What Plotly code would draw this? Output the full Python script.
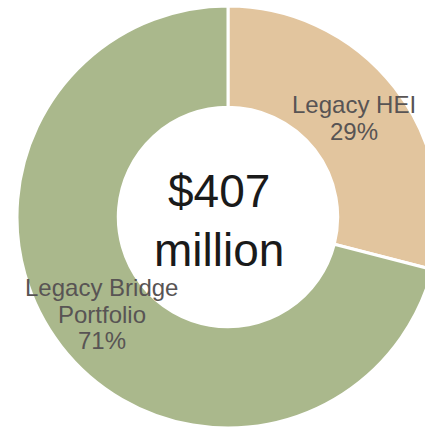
import math
import plotly.graph_objects as go

labels = ["Legacy HEI", "Legacy Bridge<br>Portfolio"]
values = [29, 71]
colors = ["#E2C59E", "#AAB88C"]
center_lines = ["$407", "million"]

HOLE = 0.52
LABEL_R = 0.758      # label radius as fraction of outer radius
LINE_PX = 26.5       # spacing between label lines in px
FONT = "Arial, Liberation Sans, sans-serif"

fig = go.Figure(go.Pie(
    labels=labels,
    values=values,
    hole=HOLE,
    sort=False,
    direction="clockwise",
    rotation=0,
    marker=dict(colors=colors, line=dict(color="white", width=3)),
    textinfo="none",
    showlegend=False,
    hoverinfo="label+percent",
))

# slice labels, placed at each slice's mid angle
total = sum(values)
cum = 0.0
for lab, val in zip(labels, values):
    mid = (cum + val / 2) / total * 2 * math.pi
    cum += val
    ax = 0.5 + 0.5 * LABEL_R * math.sin(mid)
    ay = 0.5 + 0.5 * LABEL_R * math.cos(mid)
    lines = lab.split("<br>") + [f"{round(val / total * 100)}%"]
    n = len(lines)
    for i, line in enumerate(lines):
        fig.add_annotation(
            x=ax, y=ay, xref="paper", yref="paper",
            text=line, showarrow=False,
            xanchor="center", yanchor="middle",
            yshift=-(i - (n - 1) / 2) * LINE_PX + 1,
            font=dict(family=FONT, size=24, color="#585454"),
        )

# centre total
for i, line in enumerate(center_lines):
    fig.add_annotation(
        x=0.5, y=0.5, xref="paper", yref="paper",
        text=line, showarrow=False,
        xanchor="center", yanchor="middle",
        xshift=-9,
        yshift=-(i - 0.5) * 59 - 3,
        font=dict(family=FONT, size=46, color="#1a1a1a"),
    )

fig.update_layout(
    width=439, height=429,
    margin=dict(l=17, r=0, t=6, b=1),
    paper_bgcolor="white",
    plot_bgcolor="white",
)

fig.write_html(
    "out.html",
    config={"displayModeBar": False},
    post_script="document.body.style.margin='0';document.body.style.overflow='hidden';document.documentElement.style.overflow='hidden';",
)
